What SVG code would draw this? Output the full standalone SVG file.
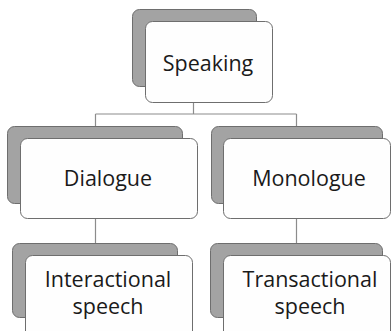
<svg xmlns="http://www.w3.org/2000/svg" width="391" height="331" viewBox="0 0 391 331">
<style>
.back{fill:#a3a3a3;stroke:#6e6e6e;stroke-width:1}
.front{fill:#fefefe;stroke:#6e6e6e;stroke-width:1}
.conn{fill:none;stroke:#8c8c8c;stroke-width:1.2}
text{font-family:"Open Sans","Noto Sans","Liberation Sans",sans-serif;font-size:21.5px;fill:#1a1a1a;text-anchor:middle}
</style>
<rect width="391" height="331" fill="#ffffff"/>
<g id="connectors">
<path class="conn" d="M193.5 102V114M95.5 114H296.5M95.5 114V126M296.5 114V126"/>
<path class="conn" d="M95.5 218V243M296.5 218V243"/>
</g>
<g id="speaking">
<rect class="back" x="132.5" y="9.5" width="124" height="77" rx="7"/>
<rect class="front" x="145.5" y="21.5" width="127" height="81" rx="7"/>
<text x="208" y="71">Speaking</text>
</g>
<g id="dialogue">
<rect class="back" x="7.5" y="126.5" width="175" height="77" rx="7"/>
<rect class="front" x="20.5" y="138.5" width="177" height="80" rx="7"/>
<text x="108" y="186">Dialogue</text>
</g>
<g id="monologue">
<rect class="back" x="211.5" y="126.5" width="171" height="77" rx="7"/>
<rect class="front" x="223.5" y="138.5" width="167" height="80" rx="7"/>
<text x="309" y="186">Monologue</text>
</g>
<g id="interactional">
<rect class="back" x="12.5" y="243.5" width="165" height="74" rx="7"/>
<rect class="front" x="25.5" y="255.5" width="167" height="85" rx="7"/>
<text x="108" y="287">Interactional</text>
<text x="108" y="314">speech</text>
</g>
<g id="transactional">
<rect class="back" x="210.5" y="243.5" width="172" height="74" rx="7"/>
<rect class="front" x="223.5" y="255.5" width="167" height="85" rx="7"/>
<text x="310" y="287">Transactional</text>
<text x="310" y="314">speech</text>
</g>
</svg>
